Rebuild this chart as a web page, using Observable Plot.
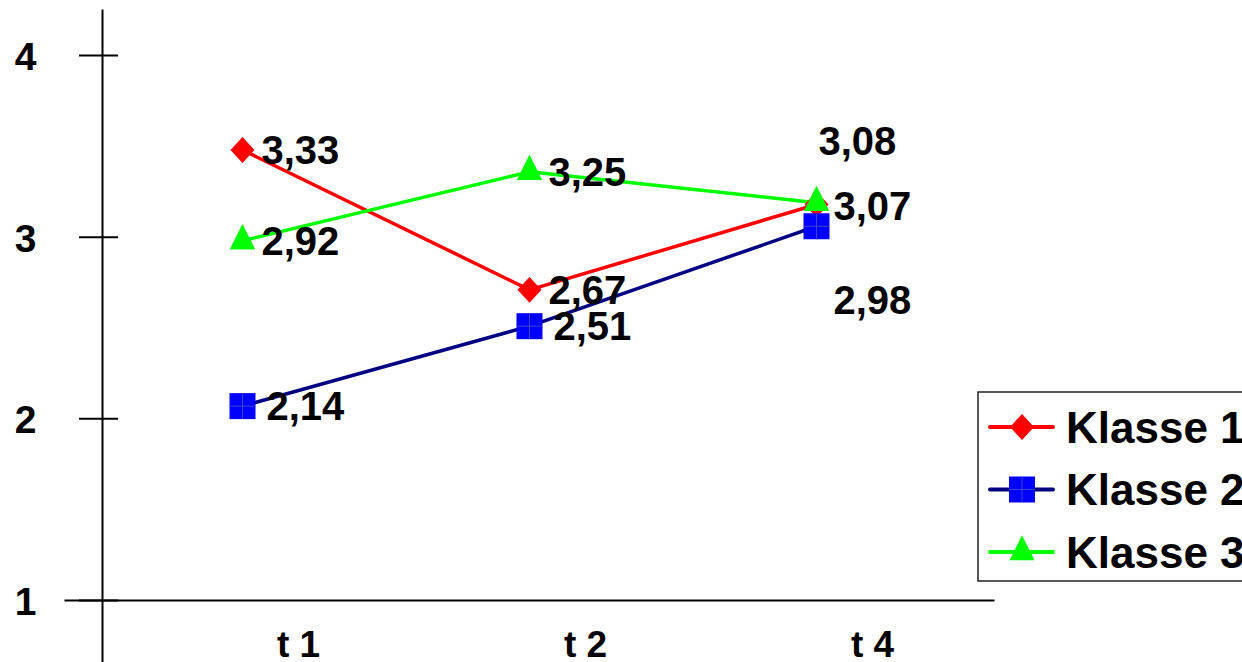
<!DOCTYPE html>
<html><head><meta charset="utf-8">
<script src="https://cdn.jsdelivr.net/npm/d3@7"></script>
<script src="https://cdn.jsdelivr.net/npm/@observablehq/plot@0.6"></script>
<style>html,body{margin:0;padding:0;background:#fff;overflow:hidden}#chart svg{display:block}</style>
</head><body><div id="chart"></div>
<script>
// ---- data ----
const classes = ["Klasse 1", "Klasse 2", "Klasse 3"];
const times = ["t 1", "t 2", "t 4"];
const klasse1 = [3.48, 2.71, 3.18];
const klasse2 = [2.07, 2.51, 3.06];
const klasse3 = [2.98, 3.36, 3.19];
const labels1 = ["3,33", "2,67", "3,08"];
const labels2 = ["2,14", "2,51", "2,98"];
const labels3 = ["2,92", "3,25", "3,07"];
const yTicks = [1, 2, 3, 4];

const series = [klasse1, klasse2, klasse3];
const labelSets = [labels1, labels2, labels3];
const rows = [];
series.forEach((vals, ci) => vals.forEach((v, ti) =>
  rows.push({cls: classes[ci], t: times[ti], v, label: labelSets[ci][ti]})));

const lineColors = ["#ff0000", "#000080", "#00ff00"];
const markerFills = ["#ff0000", "#0000ff", "#00ff00"];

// custom marker shapes
const diamond = {draw(ctx, size) {const r = Math.sqrt(size / Math.PI), hy = r * 1.08;
  ctx.moveTo(0, -hy); ctx.lineTo(r, 0); ctx.lineTo(0, hy); ctx.lineTo(-r, 0); ctx.closePath();}};
const square = {draw(ctx, size) {const r = Math.sqrt(size / Math.PI);
  ctx.moveTo(-r, -r); ctx.lineTo(r, -r); ctx.lineTo(r, r); ctx.lineTo(-r, r); ctx.closePath();}};
const triangle = {draw(ctx, size) {const r = Math.sqrt(size / Math.PI);
  ctx.moveTo(0, -4 * r / 3); ctx.lineTo(r, 2 * r / 3); ctx.lineTo(-r, 2 * r / 3); ctx.closePath();}};
const plus = {draw(ctx, size) {const r = Math.sqrt(size / Math.PI);
  ctx.moveTo(-r, 0); ctx.lineTo(r, 0); ctx.moveTo(0, -r); ctx.lineTo(0, r);}};
const symbols = [diamond, square, triangle];
const symR = [12, 13, 12.5];

const font = "Liberation Sans, Arial, Helvetica, sans-serif";
const of = (c) => rows.filter(d => d.cls === c);
const labelStyle = {x: "t", y: "v", text: "label", textAnchor: "start", fontSize: 40, fontWeight: "bold", fill: "black"};

const chart = Plot.plot({
  width: 1242, height: 662,
  marginLeft: 102, marginRight: 249, marginTop: 55, marginBottom: 62,
  style: {fontFamily: font, color: "black", background: "white"},
  x: {type: "point", domain: times, padding: 0.552, align: 0.4416},
  y: {domain: [1, 4]},
  color: {domain: classes, range: lineColors},
  marks: [
    Plot.frame({anchor: "left", insetTop: -45, insetBottom: -62, stroke: "black", strokeWidth: 2}),
    Plot.frame({anchor: "bottom", insetLeft: -37, stroke: "black", strokeWidth: 2}),
    Plot.axisY({ticks: yTicks, tickSize: 39, dx: 16, tickFormat: () => "", strokeWidth: 2, label: null}),
    Plot.axisY({ticks: yTicks, tickSize: 0, tickPadding: 66, dy: 2, fontSize: 39, fontWeight: "bold", tickFormat: d => String(d), label: null}),
    Plot.axisX({tickSize: 0, tickPadding: 30, dx: 56, fontSize: 37, fontWeight: "bold", label: null}),
    Plot.line(rows, {x: "t", y: "v", z: "cls", stroke: "cls", strokeWidth: 3.5}),
    ...classes.map((c, i) => Plot.dot(of(c), {x: "t", y: "v", symbol: symbols[i], r: symR[i], fill: markerFills[i], stroke: "none"})),
    Plot.dot(of(classes[1]), {x: "t", y: "v", symbol: plus, r: 13, fill: "none", stroke: "#4040c8", strokeWidth: 1}),
    Plot.dot(of(classes[2]), {x: "t", y: "v", symbol: triangle, r: 12.5, fill: markerFills[2], stroke: "none"}),
    Plot.text(rows.filter(d => d.t !== times[2] && d.cls !== classes[1]), {...labelStyle, dx: 19, dy: 1}),
    Plot.text(rows.filter(d => d.t !== times[2] && d.cls === classes[1]), {...labelStyle, dx: 24, dy: 1}),
    Plot.text(rows.filter(d => d.t === times[2] && d.cls === classes[0]), {...labelStyle, dx: 2, dy: -62}),
    Plot.text(rows.filter(d => d.t === times[2] && d.cls === classes[2]), {...labelStyle, dx: 17, dy: 5}),
    Plot.text(rows.filter(d => d.t === times[2] && d.cls === classes[1]), {...labelStyle, dx: 17, dy: 75})
  ]
});
document.getElementById("chart").appendChild(chart);

// legend (inside the svg, right side)
const svg = d3.select(chart);
const lg = svg.append("g").attr("font-family", font).attr("text-anchor", "start");
lg.append("rect").attr("x", 978).attr("y", 392).attr("width", 320).attr("height", 189)
  .attr("fill", "white").attr("stroke", "#222").attr("stroke-width", 1.5);
classes.forEach((c, i) => {
  const cy = 427 + i * 62.5;
  lg.append("line").attr("x1", 990).attr("x2", 1053).attr("y1", cy).attr("y2", cy)
    .attr("stroke", lineColors[i]).attr("stroke-width", 4).attr("stroke-linecap", "round");
  lg.append("path").attr("transform", `translate(1022,${cy})`)
    .attr("d", d3.symbol(symbols[i], Math.PI * symR[i] * symR[i])()).attr("fill", markerFills[i]);
  if (i === 1) lg.append("path").attr("transform", `translate(1022,${cy})`)
    .attr("d", d3.symbol(plus, Math.PI * 169)()).attr("fill", "none").attr("stroke", "#4040c8").attr("stroke-width", 1);
  lg.append("text").attr("x", 1066).attr("y", cy + 15.5).attr("font-size", 44).attr("font-weight", "bold")
    .attr("text-anchor", "start").attr("fill", "black").text(c);
});
</script>
</body></html>
